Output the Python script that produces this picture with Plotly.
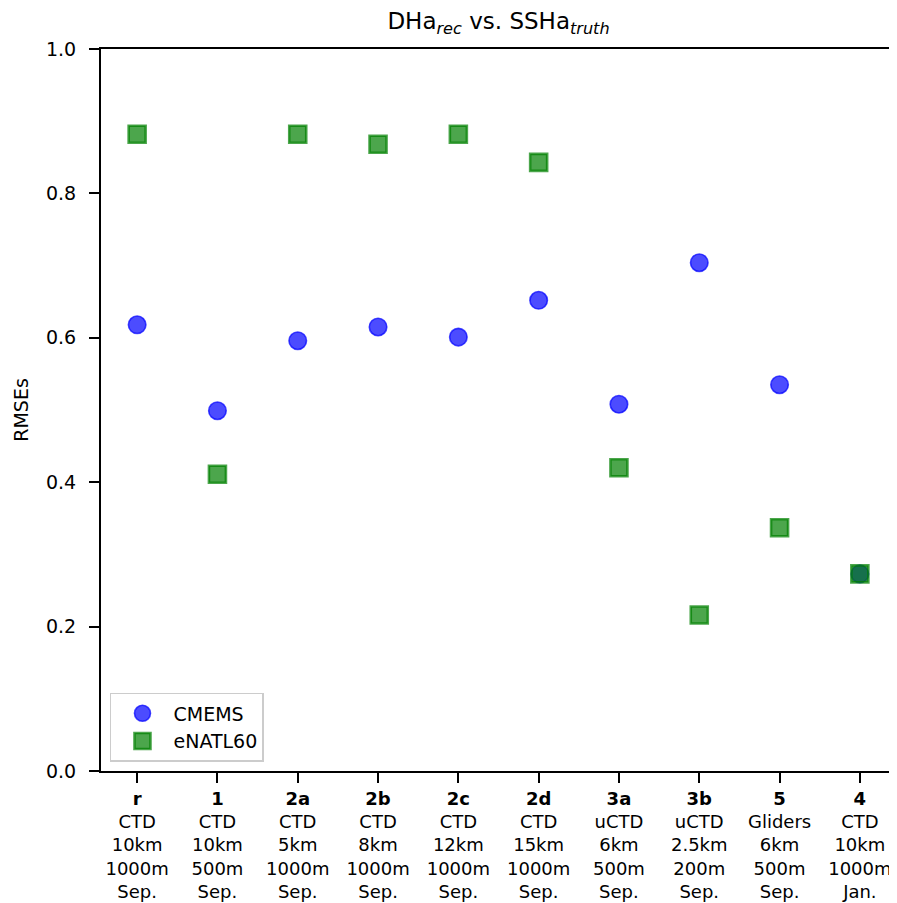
import plotly.graph_objects as go

categories = ["r", "1", "2a", "2b", "2c", "2d", "3a", "3b", "5", "4"]
platforms = ["CTD", "CTD", "CTD", "CTD", "CTD", "CTD", "uCTD", "uCTD", "Gliders", "CTD"]
resolutions = ["10km", "10km", "5km", "8km", "12km", "15km", "6km", "2.5km", "6km", "10km"]
depths = ["1000m", "500m", "1000m", "1000m", "1000m", "1000m", "500m", "200m", "500m", "1000m"]
months = ["Sep.", "Sep.", "Sep.", "Sep.", "Sep.", "Sep.", "Sep.", "Sep.", "Sep.", "Jan."]

cmems = [0.618, 0.499, 0.596, 0.615, 0.601, 0.652, 0.508, 0.704, 0.535, 0.273]
enatl60 = [0.882, 0.411, 0.882, 0.868, 0.882, 0.843, 0.420, 0.216, 0.337, 0.273]

yticks = [0, 0.2, 0.4, 0.6, 0.8, 1.0]
ytick_labels = ["0.0", "0.2", "0.4", "0.6", "0.8", "1.0"]

xpos = list(range(len(categories)))
ticktext = [f"<b>{c}</b><br>{p}<br>{r}<br>{d}<br>{m}"
            for c, p, r, d, m in zip(categories, platforms, resolutions, depths, months)]

font = "DejaVu Sans"
fig = go.Figure()
fig.add_trace(go.Scatter(
    x=xpos, y=cmems, mode="markers", name="CMEMS",
    marker=dict(symbol="circle", size=17.5, color="rgba(0,0,255,0.7)",
                line=dict(color="rgba(0,0,255,0.7)", width=1.6)),
))
fig.add_trace(go.Scatter(
    x=xpos, y=enatl60, mode="markers", name="eNATL60",
    marker=dict(symbol="square", size=17, color="rgba(0,128,0,0.7)",
                line=dict(color="rgba(0,128,0,0.7)", width=2.6)),
))

fig.update_layout(
    width=889, height=895,
    margin=dict(l=93, r=1, t=41, b=132, autoexpand=False),
    paper_bgcolor="white", plot_bgcolor="white",
    font=dict(family=font, size=19, color="black"),
    title=dict(text="DHa<sub><i>rec</i></sub> vs. SSHa<sub><i>truth</i></sub>",
               x=0.5, xref="paper", xanchor="center",
               y=0.985, yref="container", yanchor="middle",
               font=dict(family=font, size=23, color="black")),
    showlegend=True,
    legend=dict(x=0.0113, y=0.0125, xanchor="left", yanchor="bottom",
                bgcolor="rgba(255,255,255,0.8)", bordercolor="#cccccc", borderwidth=1.5,
                font=dict(family=font, size=19), itemsizing="trace",
                itemwidth=52, tracegroupgap=6),
)
fig.update_xaxes(
    range=[-0.45, 9.45], tickmode="array", tickvals=xpos, ticktext=ticktext,
    showgrid=False, zeroline=False, showline=True, linecolor="black", linewidth=2,
    mirror=True, ticks="outside", ticklen=10, tickwidth=2, tickcolor="black",
    tickfont=dict(family=font, size=18), automargin=False, fixedrange=True,
)
fig.update_yaxes(
    range=[0, 1.0], tickmode="array", tickvals=yticks, ticktext=ytick_labels,
    showgrid=False, zeroline=False, showline=True, linecolor="black", linewidth=2,
    mirror=True, ticks="outside", ticklen=10, tickwidth=2, tickcolor="black",
    tickfont=dict(family=font, size=19), ticklabelstandoff=9, automargin=False,
    title=dict(text="RMSEs", font=dict(family=font, size=19), standoff=12),
    fixedrange=True,
)

fig.write_html("out.html")
